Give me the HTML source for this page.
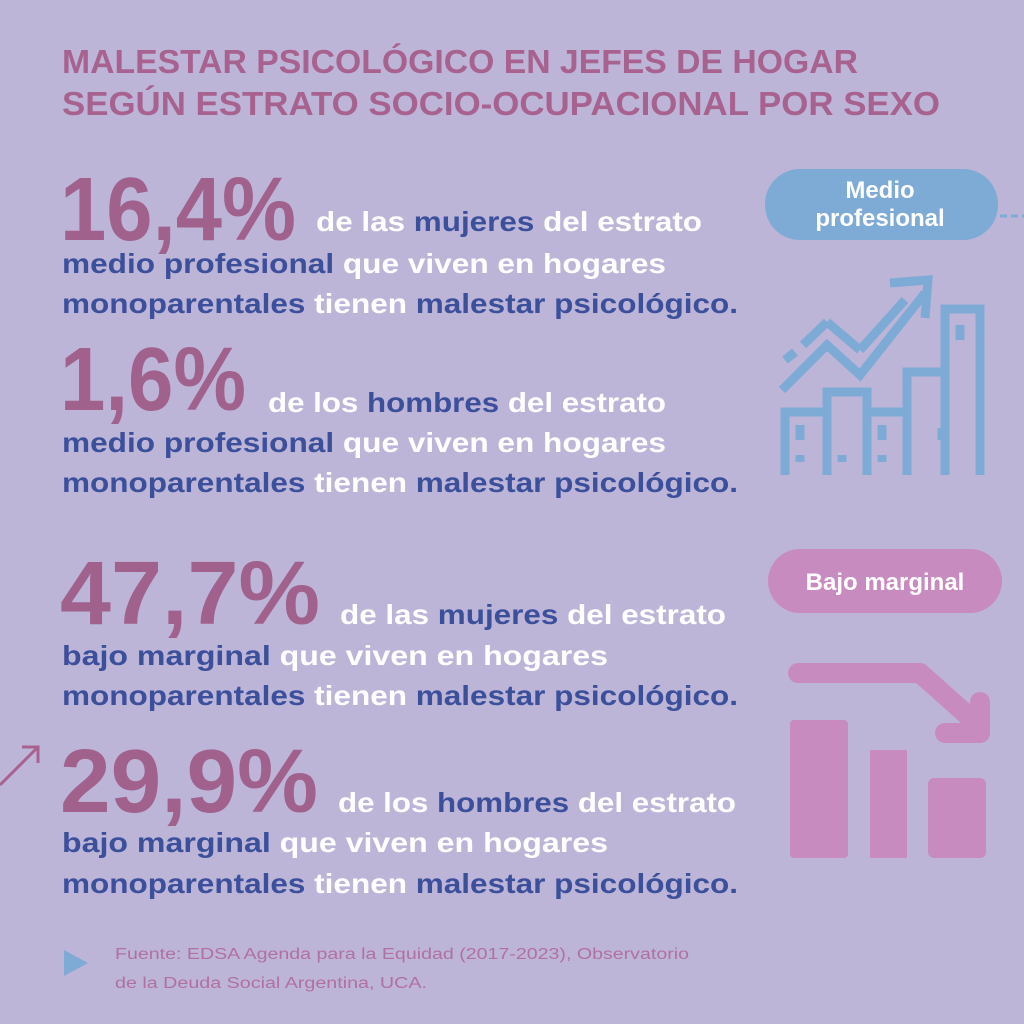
<!DOCTYPE html>
<html><head><meta charset="utf-8"><style>
html,body{margin:0;padding:0;background:#bdb5d8;}
svg{display:block}
text{font-family:"Liberation Sans",sans-serif;font-weight:bold}
.t{fill:#a8628f}.b{fill:#3b4f9b}.w{fill:#ffffff}.n{fill:#a0628d}
</style></head><body>
<svg width="1024" height="1024" viewBox="0 0 1024 1024">
<rect width="1024" height="1024" fill="#bdb5d8"/>
<g>
<text class="t" x="62" y="73" font-size="33" textLength="796" lengthAdjust="spacingAndGlyphs">MALESTAR PSICOLÓGICO EN JEFES DE HOGAR</text>
<text class="t" x="62" y="115" font-size="33" textLength="878" lengthAdjust="spacingAndGlyphs">SEGÚN ESTRATO SOCIO-OCUPACIONAL POR SEXO</text>
</g>
<g>
<text class="n" x="60" y="240" font-size="90" textLength="236" lengthAdjust="spacingAndGlyphs">16,4%</text>
<text x="316" y="231" font-size="28" textLength="386" lengthAdjust="spacingAndGlyphs"><tspan class="w">de las </tspan><tspan class="b">mujeres</tspan><tspan class="w"> del estrato</tspan></text>
<text x="62" y="273" font-size="28" textLength="604" lengthAdjust="spacingAndGlyphs"><tspan class="b">medio profesional</tspan><tspan class="w"> que viven en hogares</tspan></text>
<text x="62" y="313" font-size="28" textLength="676" lengthAdjust="spacingAndGlyphs"><tspan class="b">monoparentales</tspan><tspan class="w"> tienen </tspan><tspan class="b">malestar psicológico.</tspan></text>
</g>
<g>
<text class="n" x="60" y="410" font-size="90" textLength="186" lengthAdjust="spacingAndGlyphs">1,6%</text>
<text x="268" y="412" font-size="28" textLength="398" lengthAdjust="spacingAndGlyphs"><tspan class="w">de los </tspan><tspan class="b">hombres</tspan><tspan class="w"> del estrato</tspan></text>
<text x="62" y="452" font-size="28" textLength="604" lengthAdjust="spacingAndGlyphs"><tspan class="b">medio profesional</tspan><tspan class="w"> que viven en hogares</tspan></text>
<text x="62" y="492" font-size="28" textLength="676" lengthAdjust="spacingAndGlyphs"><tspan class="b">monoparentales</tspan><tspan class="w"> tienen </tspan><tspan class="b">malestar psicológico.</tspan></text>
</g>
<g>
<text class="n" x="60" y="624" font-size="90" textLength="260" lengthAdjust="spacingAndGlyphs">47,7%</text>
<text x="340" y="624" font-size="28" textLength="386" lengthAdjust="spacingAndGlyphs"><tspan class="w">de las </tspan><tspan class="b">mujeres</tspan><tspan class="w"> del estrato</tspan></text>
<text x="62" y="665" font-size="28" textLength="546" lengthAdjust="spacingAndGlyphs"><tspan class="b">bajo marginal</tspan><tspan class="w"> que viven en hogares</tspan></text>
<text x="62" y="705" font-size="28" textLength="676" lengthAdjust="spacingAndGlyphs"><tspan class="b">monoparentales</tspan><tspan class="w"> tienen </tspan><tspan class="b">malestar psicológico.</tspan></text>
</g>
<g>
<text class="n" x="60" y="812" font-size="90" textLength="258" lengthAdjust="spacingAndGlyphs">29,9%</text>
<text x="338" y="812" font-size="28" textLength="398" lengthAdjust="spacingAndGlyphs"><tspan class="w">de los </tspan><tspan class="b">hombres</tspan><tspan class="w"> del estrato</tspan></text>
<text x="62" y="852" font-size="28" textLength="546" lengthAdjust="spacingAndGlyphs"><tspan class="b">bajo marginal</tspan><tspan class="w"> que viven en hogares</tspan></text>
<text x="62" y="893" font-size="28" textLength="676" lengthAdjust="spacingAndGlyphs"><tspan class="b">monoparentales</tspan><tspan class="w"> tienen </tspan><tspan class="b">malestar psicológico.</tspan></text>
</g>
<g>
<rect x="765" y="169" width="233" height="71" rx="35" fill="#7eaad6"/>
<text class="w" x="880" y="198" font-size="24" text-anchor="middle">Medio</text>
<text class="w" x="880" y="226" font-size="24" text-anchor="middle">profesional</text>
<line x1="1000" y1="216" x2="1024" y2="216" stroke="#7eaad6" stroke-width="3" stroke-dasharray="7 4"/>
</g>
<g fill="none" stroke="#7eaad6" stroke-width="9" stroke-linejoin="miter">
<polyline points="785,475 785,412 827,412 827,475"/>
<polyline points="827,412 827,392 867,392 867,475"/>
<polyline points="867,412 907,412 907,475"/>
<polyline points="907,475 907,372 945,372 945,475"/>
<polyline points="945,372 945,309 980,309 980,475"/>
<polyline points="782,390 827,345 860,375 925,293"/>
<polyline points="890,283 928,280 925,318"/>
<polyline points="782,362 827,315 860,345 895,302" stroke-width="0"/>
<line x1="785" y1="360" x2="795" y2="352"/>
<line x1="803" y1="345" x2="827" y2="322"/>
<line x1="827" y1="322" x2="860" y2="350"/>
<line x1="860" y1="350" x2="905" y2="300"/>
<line x1="800" y1="425" x2="800" y2="440"/><line x1="800" y1="455" x2="800" y2="462"/>
<line x1="882" y1="425" x2="882" y2="440"/><line x1="882" y1="455" x2="882" y2="462"/>
<line x1="842" y1="455" x2="842" y2="462"/><line x1="942" y1="428" x2="942" y2="440"/>
<line x1="960" y1="325" x2="960" y2="340"/>
</g>
<g>
<rect x="768" y="549" width="234" height="64" rx="32" fill="#c88bc0"/>
<text class="w" x="885" y="590" font-size="24" text-anchor="middle">Bajo marginal</text>
</g>
<g fill="#c88bc0">
<rect x="790" y="720" width="58" height="138" rx="4"/>
<rect x="870" y="750" width="37" height="108"/>
<rect x="928" y="778" width="58" height="80" rx="6"/>
<polyline points="798,673 920,673 975,722" fill="none" stroke="#c88bc0" stroke-width="20" stroke-linecap="round" stroke-linejoin="round"/>
<polyline points="980,702 980,733 945,733" fill="none" stroke="#c88bc0" stroke-width="20" stroke-linecap="round" stroke-linejoin="round"/>
</g>
<g fill="none" stroke="#a8628f" stroke-width="3">
<line x1="0" y1="785" x2="38" y2="747"/><polyline points="22,747 38,747 38,763"/>
</g>
<g>
<polygon points="64,950 64,976 88,963" fill="#7eaad6"/>
<text x="115" y="959" font-size="15.5" fill="#b070a0" style="font-weight:normal" textLength="574" lengthAdjust="spacingAndGlyphs">Fuente: EDSA Agenda para la Equidad (2017-2023), Observatorio</text>
<text x="115" y="988" font-size="15.5" fill="#b070a0" style="font-weight:normal" textLength="312" lengthAdjust="spacingAndGlyphs">de la Deuda Social Argentina, UCA.</text>
</g>
</svg>
</body></html>
